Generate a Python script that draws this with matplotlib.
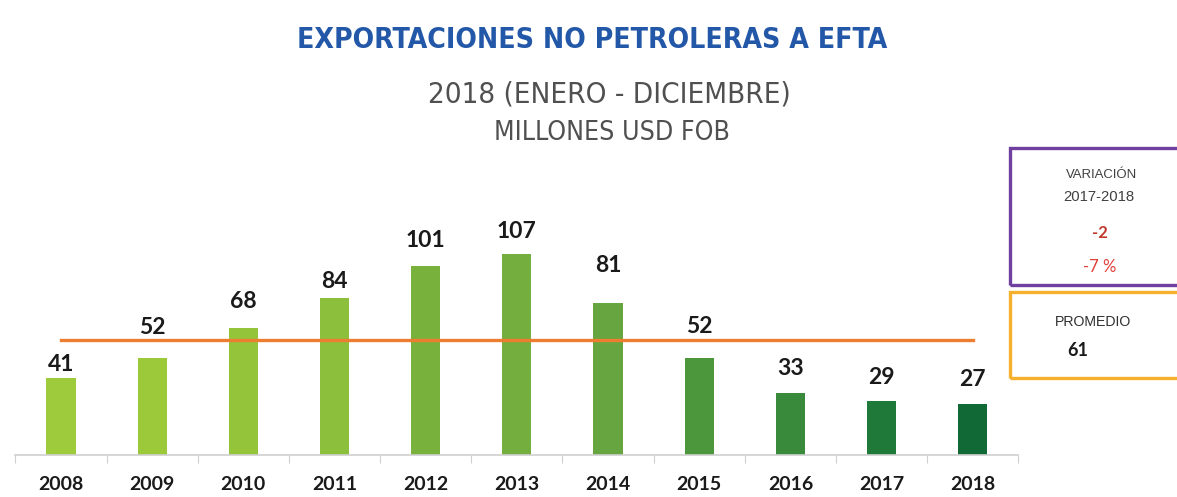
import matplotlib
matplotlib.use('Agg')
import matplotlib.pyplot as plt
from matplotlib.patches import Rectangle

# datos: exportaciones no petroleras a EFTA, millones USD FOB
anios = ['2008', '2009', '2010', '2011', '2012', '2013',
         '2014', '2015', '2016', '2017', '2018']
valores = [41, 52, 68, 84, 101, 107, 81, 52, 33, 29, 27]
variacion_abs = '-2'
variacion_pct = '-7 %'

# colores de barras (verde claro -> verde oscuro)
colores = ['#9ecb3b', '#9cc93a', '#94c43a', '#8cbf3b', '#78b13c', '#73ae3e',
           '#66a53f', '#4c973b', '#3a8a3b', '#1f7a3a', '#116a36']
# separacion de cada etiqueta sobre su barra (pixeles)
desfase = [14, 30, 26, 16, 25, 23, 38, 31, 25, 23, 25]

W, H = 1177, 497
fig = plt.figure(figsize=(W / 100, H / 100), dpi=100)
fig.patch.set_facecolor('white')

# ejes en pixeles: base en y=455, barras cada ~91 px
ax = fig.add_axes([15.4 / W, 42 / H, 1003 / W, 300 / H])
x = list(range(len(anios)))
ax.bar(x, valores, width=0.32, color=colores, zorder=2)

promedio = sum(valores) / len(valores)
ax.plot([x[0], x[-1]], [promedio, promedio], color='#ed7d31', lw=2.4, zorder=3)

for xi, v, d in zip(x, valores, desfase):
    ax.annotate(str(v), (xi, v), xytext=(0, d), textcoords='offset pixels',
                ha='center', va='center', fontsize=16.5, fontweight='bold',
                family='Lato', color='#1a1a1a')

ax.set_xlim(-0.5, len(anios) - 0.5)
ax.set_ylim(0, 160)
for s in ['top', 'right', 'left']:
    ax.spines[s].set_visible(False)
ax.spines['bottom'].set_color('#d0d0d0')
ax.spines['bottom'].set_linewidth(1.2)
ax.set_yticks([])
ax.set_xticks([i - 0.5 for i in range(len(anios) + 1)], minor=False)
ax.set_xticklabels([])
ax.tick_params(axis='x', which='major', length=6, color='#d0d0d0')
ax.set_xticks(x, minor=True)
ax.set_xticklabels(anios, minor=True)
ax.tick_params(axis='x', which='minor', length=0, pad=15, labelsize=14)
for t in ax.get_xticklabels(minor=True):
    t.set_fontweight('bold')
    t.set_family('Lato')
    t.set_color('#1a1a1a')

# titulos: se ajusta el tamano para que el ancho coincida con el original
renderer = fig.canvas.get_renderer()


def texto_ajustado(xc, yc, s, ancho, **kw):
    t = fig.text(xc / W, 1 - yc / H, s, ha='center', va='center', **kw)
    w = t.get_window_extent(renderer).width
    t.set_fontsize(t.get_fontsize() * ancho / w)
    return t


titulo_kw = dict(family='DejaVu Sans', stretch='condensed')
texto_ajustado(592, 40, 'EXPORTACIONES NO PETROLERAS A EFTA', 590,
               fontsize=25, fontweight='bold', color='#2358a8', **titulo_kw)
texto_ajustado(609, 95, '2018 (ENERO - DICIEMBRE)', 362,
               fontsize=22, fontweight='light', color='#505050', **titulo_kw)
texto_ajustado(612, 133, 'MILLONES USD FOB', 235,
               fontsize=20, fontweight='light', color='#505050', **titulo_kw)

# recuadro de variacion
fig.patches.append(Rectangle((1010 / W, 1 - 285 / H), 180 / W, 137 / H,
                             transform=fig.transFigure, fill=False,
                             edgecolor='#7040a0', lw=2.4))
texto_ajustado(1102, 175, 'VARIACIÓN', 71, fontsize=9,
               family='Liberation Sans', color='#404040')
texto_ajustado(1099, 197, '2017-2018', 71, fontsize=9,
               family='Liberation Sans', color='#404040')
fig.text(1100 / W, 1 - 233 / H, variacion_abs, ha='center', va='center',
         fontsize=12, fontweight='bold', family='Lato', color='#c0392b')
fig.text(1100 / W, 1 - 267 / H, variacion_pct, ha='center', va='center',
         fontsize=12, family='Lato', color='#e0403a')

# recuadro de promedio
fig.patches.append(Rectangle((1010 / W, 1 - 378 / H), 180 / W, 86 / H,
                             transform=fig.transFigure, fill=False,
                             edgecolor='#f5b12e', lw=2.4))
texto_ajustado(1093, 322, 'PROMEDIO', 77, fontsize=11,
               family='Liberation Sans', color='#303030')
fig.text(1078 / W, 1 - 350 / H, str(round(promedio)), ha='center', va='center',
         fontsize=13, fontweight='bold', family='Lato', color='#1a1a1a')

fig.savefig('out.png', dpi=100)
